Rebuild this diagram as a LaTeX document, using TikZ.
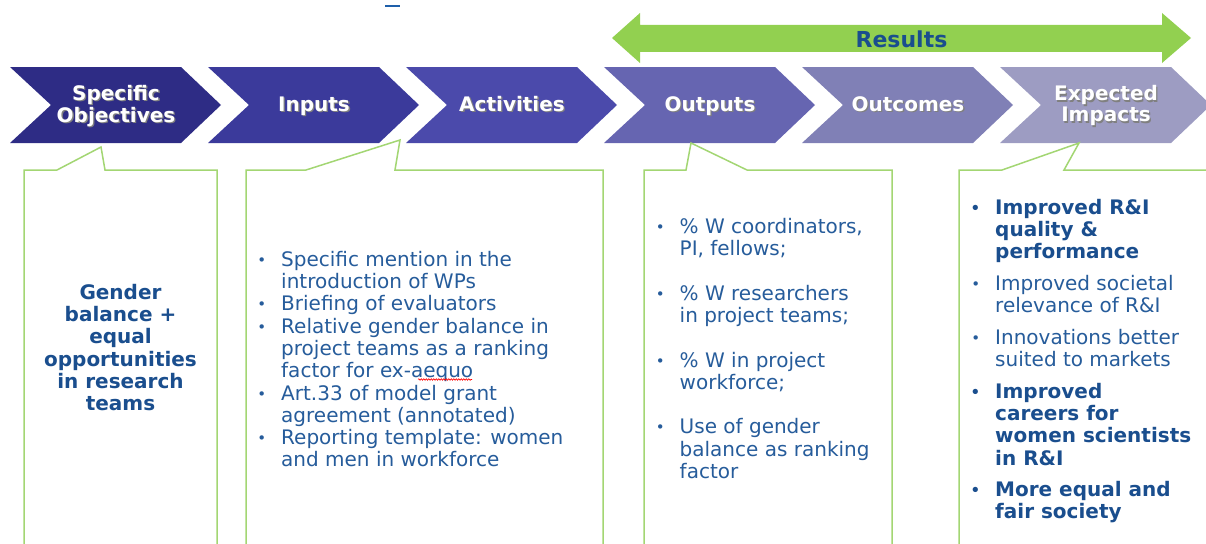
\documentclass[tikz,border=0pt]{standalone}
\usepackage{fontspec}
\setmainfont{DejaVu Sans}
\usetikzlibrary{decorations.pathmorphing}
\definecolor{chA}{RGB}{46,44,133}
\definecolor{chB}{RGB}{59,58,155}
\definecolor{chC}{RGB}{75,74,171}
\definecolor{chD}{RGB}{102,101,177}
\definecolor{chE}{RGB}{128,128,182}
\definecolor{chF}{RGB}{157,156,194}
\definecolor{resgreen}{RGB}{146,208,80}
\definecolor{boxgreen}{RGB}{163,214,115}
\definecolor{txtblue}{RGB}{38,92,155}
\definecolor{boldblue}{RGB}{26,78,142}
\definecolor{artblue}{RGB}{30,95,170}
\newcommand\shtx[1]{\makebox[0pt][l]{\raisebox{-1.3pt}{\hspace{1.3pt}\textcolor{black!50}{#1}}}#1}
\newcommand\bul{\llap{\raisebox{1.0pt}{\fontsize{15}{15}\selectfont •}\hspace{15pt}}}
\begin{document}
\begin{tikzpicture}[x=1pt,y=-1pt,
  chev label/.style={text=white, font=\fontsize{20}{18.3}\selectfont\bfseries, align=center, inner sep=0pt},
  chev one/.style={chev label, text height=14.6pt, text depth=0pt},
  callout/.style={draw=boxgreen, line width=1.5pt, fill=white, line join=miter},
  body line/.style={anchor=west, inner sep=0pt, text=txtblue, font=\fontsize{20}{22.3}\selectfont, text height=14.5pt, text depth=0pt},
  bold line/.style={body line, text=boldblue, font=\fontsize{20}{22.3}\selectfont\bfseries},
]
\useasboundingbox (0,0) rectangle (1206,543);
\clip (0,0) rectangle (1206,543);

% stray mark at top
\draw[artblue, line width=2pt] (385,6.5) -- (400,6.5);

% Results double arrow
\fill[resgreen] (612,38) -- (640,13) -- (640,25) -- (1162,25) -- (1162,13) -- (1191,38)
  -- (1162,63) -- (1162,52) -- (640,52) -- (640,63) -- cycle;
\node[text=boldblue, font=\fontsize{22}{22}\selectfont\bfseries] (results) at (901.5,39.5) {Results};

% chevrons
\foreach \L/\c in {10/chA, 208/chB, 406/chC, 604/chD, 802/chE, 1000/chF}
  \fill[\c] (\L,67) -- ++(171,0) -- ++(40,38) -- ++(-40,38) -- ++(-171,0) -- ++(41,-38) -- cycle;
\node[chev label] (so) at (116,106.5) {\shtx{Specific}\\\shtx{Objectives}};
\node[chev one] (in) at (314,104.3) {\shtx{Inputs}};
\node[chev one] (ac) at (512,104.3) {\shtx{Activities}};
\node[chev one] (op) at (710,104.3) {\shtx{Outputs}};
\node[chev one] (oc) at (908,104.3) {\shtx{Outcomes}};
\node[chev label] (ei) at (1106,106.5) {\shtx{Expected}\\\shtx{Impacts}};

% callouts
\draw[callout] (24,560) -- (24,170) -- (57,170) -- (101,147) -- (105,170) -- (217,170) -- (217,560);
\draw[callout] (246,560) -- (246,170) -- (306,170) -- (400,140) -- (395,170) -- (603,170) -- (603,560);
\draw[callout] (644,560) -- (644,170) -- (686,170) -- (691,143) -- (747,170) -- (892,170) -- (892,560);
\draw[callout] (959,560) -- (959,170) -- (1002,170) -- (1079,143) -- (1064,170) -- (1220,170) -- (1220,560);

% box 1
\foreach \t [count=\i from 0] in {Gender, balance +, equal, opportunities, in research, teams}
  \node[bold line, anchor=center] (g\i) at (120.5,292+22.3*\i) {\t};

% box 2
\foreach \t/\b [count=\i from 0] in {Specific mention in the/1, introduction of WPs/0,
  Briefing of evaluators/1, Relative gender balance in/1, project teams as a ranking/0,
  factor for ex-aequo/0, Art.33 of model grant/1, agreement (annotated)/0,
  Reporting template: women/1, and men in workforce/0}
  \node[body line] (p\i) at (281,259+22.3*\i) {\ifnum\b=1 \bul\fi\t};
\draw[red, line width=0.6pt, decorate, decoration={snake, amplitude=0.8pt, segment length=2.5pt}]
  (418,379.5) -- (472,379.5);

% box 3
\foreach \t/\b/\k [count=\i] in {{\% W coordinators,}/1/0, {PI, fellows;}/0/1,
  \% W researchers/1/3, in project teams;/0/4, \% W in project/1/6, workforce;/0/7,
  Use of gender/1/9, balance as ranking/0/10, factor/0/11}
  \node[body line] (q\i) at (679.5,226+22.3*\k) {\ifnum\b=1 \bul\fi\t};

% box 4
\foreach \t/\b/\w/\y [count=\i] in {Improved R\&I/1/1/207, quality \&/0/1/229.3, performance/0/1/251.6,
  Improved societal/1/0/283.3, relevance of R\&I/0/0/305.6,
  Innovations better/1/0/337.3, suited to markets/0/0/359.6,
  Improved/1/1/391, careers for/0/1/413.3, women scientists/0/1/435.6, in R\&I/0/1/458,
  More equal and/1/1/489.3, fair society/0/1/511.6}
  \node[body line] (r\i) at (995,\y) {\ifnum\w=1 \bfseries\color{boldblue}\fi\ifnum\b=1 \bul\fi\t};
\end{tikzpicture}
\end{document}
